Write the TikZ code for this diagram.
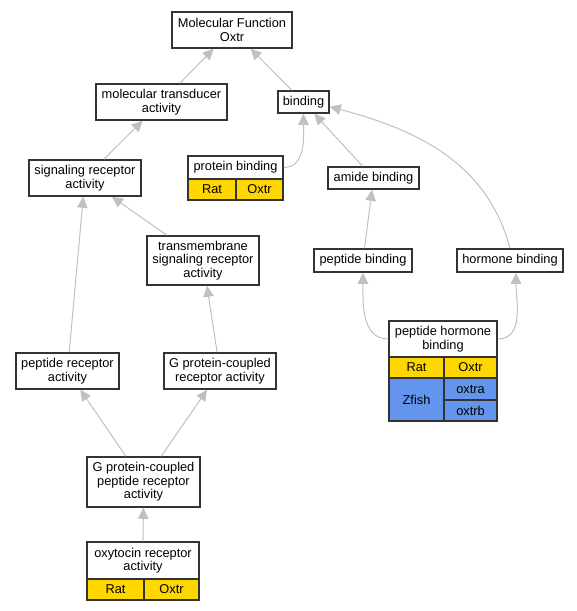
\documentclass[tikz,border=0pt]{standalone}
\usepackage{fontspec}
\setmainfont{Liberation Sans}
\usepackage[HTML]{xcolor}
\usepackage{tikz}
\usetikzlibrary{arrows.meta}

\definecolor{ratyellow}{HTML}{FFD700}
\definecolor{fishblue}{HTML}{6495ED}
\definecolor{edgegray}{HTML}{C0C0C0}
\definecolor{boxline}{HTML}{333333}

\tikzset{
  term/.style={draw=boxline, line width=1.5pt, fill=white, align=center, inner sep=0pt},
  cell/.style={draw=boxline, line width=1.5pt, inner sep=0pt},
  rat/.style={cell, fill=ratyellow},
  fish/.style={cell, fill=fishblue},
  isa/.style={draw=edgegray, line width=1pt, -{Triangle[length=11pt, width=10.5pt, fill=edgegray]}}
}

\begin{document}
\begin{tikzpicture}[x=1pt, y=1pt, font=\fontsize{12.8}{13.5}\selectfont]
\useasboundingbox (0,0) rectangle (577,-611);

% terms
\node[term, minimum width=120pt, minimum height=36pt] (mf) at (232,-30) {Molecular Function\\Oxtr};
\node[term, minimum width=131pt, minimum height=36pt] (mt) at (161.5,-102) {molecular transducer\\activity};
\node[term, minimum width=51pt, minimum height=22pt] (binding) at (303.5,-102) {binding};
\node[term, minimum width=112pt, minimum height=36pt] (sr) at (85,-178) {signaling receptor\\activity};
\node[term, minimum width=112pt, minimum height=49pt] (tm) at (203,-260.5) {transmembrane\\signaling receptor\\activity};
\node[term, minimum width=91pt, minimum height=22pt] (amide) at (373.5,-178) {amide binding};
\node[term, minimum width=98pt, minimum height=23pt] (pepb) at (363,-260.5) {peptide binding};
\node[term, minimum width=106pt, minimum height=23pt] (hormone) at (510,-260.5) {hormone binding};
\node[term, minimum width=103pt, minimum height=36pt] (pr) at (67.5,-371) {peptide receptor\\activity};
\node[term, minimum width=112pt, minimum height=36pt] (gpcr) at (220,-371) {G protein-coupled\\receptor activity};
\node[term, minimum width=113pt, minimum height=50pt] (gpcpr) at (143.5,-482) {G protein-coupled\\peptide receptor\\activity};

% protein binding
\node[term, minimum width=95pt, minimum height=23pt] (protein) at (235.5,-167.5) {protein binding};
\node[rat, minimum width=48pt, minimum height=21pt] (proteinrat) at (212,-189.5) {Rat};
\node[rat, minimum width=47pt, minimum height=21pt] (proteinoxtr) at (259.5,-189.5) {Oxtr};

% peptide hormone binding
\node[term, minimum width=108pt, minimum height=36pt] (phb) at (443,-339) {peptide hormone\\binding};
\node[rat, minimum width=55pt, minimum height=21pt] (phbrat) at (416.5,-367.5) {Rat};
\node[rat, minimum width=53pt, minimum height=21pt] (phboxtr) at (470.5,-367.5) {Oxtr};
\node[fish, minimum width=55pt, minimum height=43pt] (phbfish) at (416.5,-399.5) {Zfish};
\node[fish, minimum width=53pt, minimum height=22pt] (phboxtra) at (470.5,-389) {oxtra};
\node[fish, minimum width=53pt, minimum height=21pt] (phboxtrb) at (470.5,-410.5) {oxtrb};

% oxytocin receptor activity
\node[term, minimum width=112pt, minimum height=37pt] (ox) at (143,-560.5) {oxytocin receptor\\activity};
\node[rat, minimum width=57pt, minimum height=21pt] (oxrat) at (115.5,-589.5) {Rat};
\node[rat, minimum width=55pt, minimum height=21pt] (oxoxtr) at (171.5,-589.5) {Oxtr};

% is_a edges
\draw[isa] (mt) -- (mf);
\draw[isa] (binding) -- (mf);
\draw[isa] (sr) -- (mt);
\draw[isa] (tm) -- (sr);
\draw[isa] (pr) -- (sr);
\draw[isa] (gpcr) -- (tm);
\draw[isa] (gpcpr) -- (pr);
\draw[isa] (gpcpr) -- (gpcr);
\draw[isa] (ox) -- (gpcpr);
\draw[isa] (amide) -- (binding);
\draw[isa] (pepb) -- (amide);
\draw[isa] (protein.east) to[out=0, in=-90] (binding.south);
\draw[isa] (hormone.north) to[out=105, in=-15] (binding.-10);
\draw[isa] (phb.west) to[out=180, in=-90] (pepb.south);
\draw[isa] (phb.east) to[out=0, in=-90] ([xshift=6pt]hormone.south);
\end{tikzpicture}
\end{document}
